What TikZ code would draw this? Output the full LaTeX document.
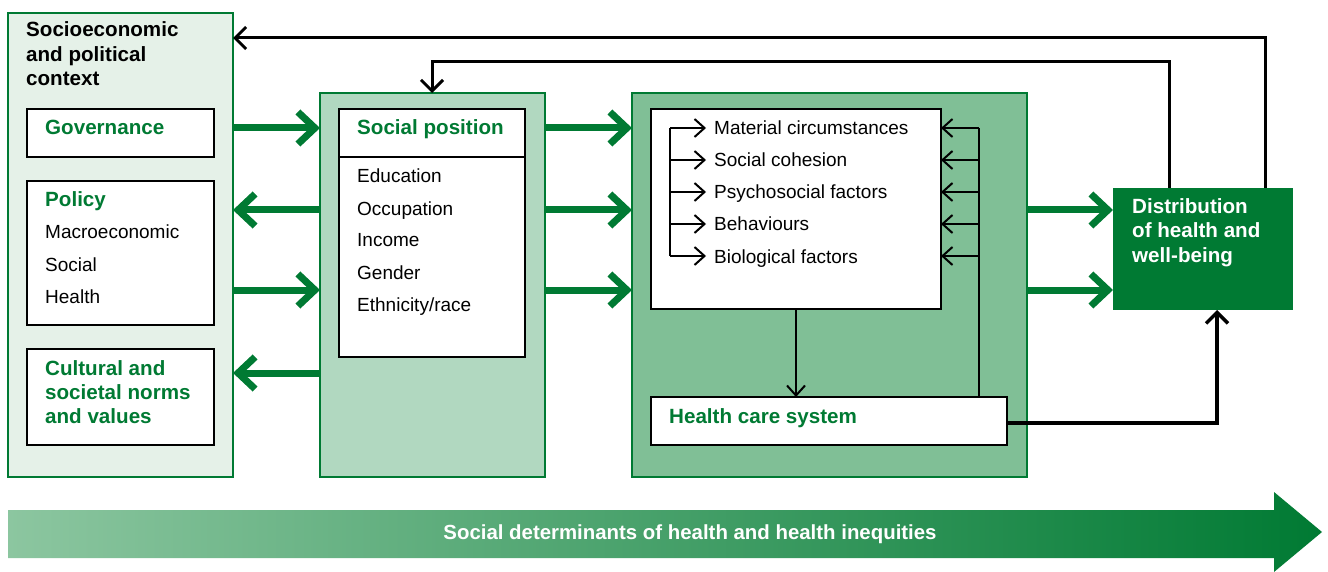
\documentclass[tikz,border=0pt]{standalone}
\usepackage{fontspec}
\setmainfont{Liberation Sans}
\usetikzlibrary{arrows.meta}
\definecolor{dg}{HTML}{007A33}
\definecolor{lgA}{HTML}{E5F1E8}
\definecolor{lgB}{HTML}{B1D8C0}
\definecolor{lgC}{HTML}{80BF96}
\definecolor{gs}{HTML}{8CC6A0}
\tikzset{
  panel/.style={draw=dg, line width=2pt, outer sep=0pt, inner sep=0pt, anchor=north west},
  wbox/.style={draw=black, line width=2.5pt, fill=white, outer sep=0pt, inner sep=0pt, anchor=north west},
  lbl/.style={anchor=base west, inner sep=0pt, font=\fontsize{19}{23}\selectfont},
  blbl/.style={anchor=base west, inner sep=0pt, font=\fontsize{20.6}{24}\selectfont\bfseries},
  gbl/.style={blbl, text=dg},
  garrow/.style={draw=dg, line width=7pt, -{Straight Barb[length=17pt,width=32pt]}},
  fb/.style={line width=3pt, -{Straight Barb[length=11pt,width=22pt]}},
  inarrow/.style={line width=2pt, -{Straight Barb[length=10pt,width=18pt]}},
  inline/.style={line width=2pt}
}
\begin{document}
\begin{tikzpicture}[x=1pt,y=-1pt]
\useasboundingbox (0,0) rectangle (1328,572);
% panels
\node[panel, fill=lgA, minimum width=225pt, minimum height=464pt] (ctx) at (8,13) {};
\node[panel, fill=lgB, minimum width=225pt, minimum height=384pt] (spos) at (320,93) {};
\node[panel, fill=lgC, minimum width=395pt, minimum height=384pt] (mid) at (632,93) {};
% left column
\node[blbl] (ctx1) at (26,37) {Socioeconomic};
\node[blbl] (ctx2) at (26,61.5) {and political};
\node[blbl] (ctx3) at (26,86) {context};
\node[wbox, minimum width=187pt, minimum height=48pt] (gov) at (27,109) {};
\node[gbl] (govt) at (45,135) {Governance};
\node[wbox, minimum width=187pt, minimum height=144pt] (pol) at (27,181) {};
\node[gbl] (polt) at (45,207) {Policy};
\node[lbl] (pol1) at (45,239) {Macroeconomic};
\node[lbl] (pol2) at (45,271) {Social};
\node[lbl] (pol3) at (45,303) {Health};
\node[wbox, minimum width=187pt, minimum height=96pt] (cul) at (27,349) {};
\node[gbl] (cul1) at (45,375) {Cultural and};
\node[gbl] (cul2) at (45,399) {societal norms};
\node[gbl] (cul3) at (45,423) {and values};
% social position
\node[wbox, minimum width=186pt, minimum height=48pt] (sphead) at (339,109) {};
\node[wbox, minimum width=186pt, minimum height=200pt] (spbody) at (339,157) {};
\node[gbl] (spt) at (357,135) {Social position};
\node[lbl] (sp1) at (357,183) {Education};
\node[lbl] (sp2) at (357,215) {Occupation};
\node[lbl] (sp3) at (357,247) {Income};
\node[lbl] (sp4) at (357,279) {Gender};
\node[lbl] (sp5) at (357,311) {Ethnicity/race};
% factors
\node[wbox, minimum width=290pt, minimum height=200pt] (fac) at (651,109) {};
\node[lbl] (f1) at (714,135) {Material circumstances};
\node[lbl] (f2) at (714,167) {Social cohesion};
\node[lbl] (f3) at (714,199) {Psychosocial factors};
\node[lbl] (f4) at (714,231) {Behaviours};
\node[lbl] (f5) at (714,263) {Biological factors};
\node[wbox, minimum width=356pt, minimum height=48pt] (hc) at (651,397) {};
\node[gbl] (hct) at (669,423) {Health care system};
% distribution
\node[anchor=north west, fill=dg, outer sep=0pt, inner sep=0pt, minimum width=180pt, minimum height=122pt] (dist) at (1113,188) {};
\node[blbl, text=white] (d1) at (1132,214) {Distribution};
\node[blbl, text=white] (d2) at (1132,238) {of health and};
\node[blbl, text=white] (d3) at (1132,262) {well-being};
% inner arrows
\draw[inline] (670,128) -- (670,256);
\foreach \yy in {128,160,192,224,256} {
  \draw[inarrow] (670,\yy) -- (706,\yy);
  \draw[inarrow] (979,\yy) -- (fac.east |- 0,\yy);
}
\draw[inline] (979,128) -- (hc.north -| 979,0);
\draw[inarrow] (fac.south) -- (fac.south |- hc.north);
% feedback
\draw[fb, line width=3.5pt] ([yshift=-2pt]hc.east) -| ([xshift=14pt]dist.south);
\draw[fb] ([xshift=-28pt]dist.north east) |- (ctx.east |- 0,38);
\draw[fb] ([xshift=56pt]dist.north west) |- (432,62) -- (spos.north -| 432,0);
% green arrows
\draw[garrow] (ctx.east |- 0,128) -- (spos.west |- 0,128);
\draw[garrow] (spos.west |- 0,210) -- (ctx.east |- 0,210);
\draw[garrow] (ctx.east |- 0,290) -- (spos.west |- 0,290);
\draw[garrow] (spos.west |- 0,373) -- (ctx.east |- 0,373);
\draw[garrow] (spos.east |- 0,128) -- (mid.west |- 0,128);
\draw[garrow] (spos.east |- 0,210) -- (mid.west |- 0,210);
\draw[garrow] (spos.east |- 0,290) -- (mid.west |- 0,290);
\draw[garrow] (mid.east |- 0,210) -- (dist.west |- 0,210);
\draw[garrow] (mid.east |- 0,290) -- (dist.west |- 0,290);
% bottom arrow
\shade[left color=gs, right color=dg] (8,510) -- (1274,510) -- (1274,492) -- (1322,532) -- (1274,572) -- (1274,558) -- (8,558) -- cycle;
\node[inner sep=0pt, anchor=base, text=white, font=\fontsize{20.4}{24}\selectfont\bfseries] (sdh) at (690,539) {Social determinants of health and health inequities};
\end{tikzpicture}
\end{document}
